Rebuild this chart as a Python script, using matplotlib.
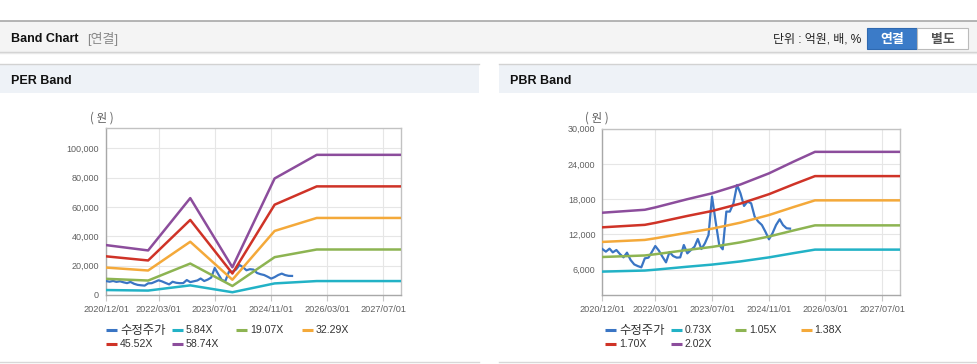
import numpy as np
import pandas as pd
import matplotlib
matplotlib.use("Agg")
import matplotlib.pyplot as plt
import matplotlib.dates as mdates
from matplotlib.patches import Rectangle
from matplotlib.lines import Line2D
from matplotlib.ticker import FuncFormatter, FixedLocator

# ---------------- data ----------------
price_start = "2020-12-01"
price = [9520, 9070, 9580, 8950, 9350, 8670, 8100, 8900, 7650, 6900, 6620, 6400,
         7930, 8045, 9070, 10030, 9240, 8220, 7250, 9010, 8330, 8050, 8100, 10200,
         8780, 9350, 9920, 11230, 9520, 10490, 11900, 18440, 14180, 10200, 9470, 15890,
         15890, 17300, 20430, 19010, 16850, 17590, 17300, 15030, 14180, 13610, 12480, 11170,
         12190, 13610, 14580, 13610, 13050, 12990]

eps_dates = ["2020-12-01", "2021-12-01", "2022-12-01", "2023-12-01", "2024-12-01", "2025-12-01", "2027-12-01"]
eps = [579, 517, 1124, 322, 1352, 1626, 1626]
per_multiples = [5.84, 19.07, 32.29, 45.52, 58.74]

bps_dates = ["2020-12-01", "2021-12-01", "2022-03-01", "2022-12-01", "2023-07-01", "2024-03-01",
             "2024-11-01", "2025-06-01", "2025-12-01", "2027-12-01"]
bps = [7772, 8020, 8218, 8911, 9406, 10149, 11089, 12080, 12900, 12900]
pbr_multiples = [0.73, 1.05, 1.38, 1.70, 2.02]

x_ticks = ["2020-12-01", "2022-03-01", "2023-07-01", "2024-11-01", "2026-03-01", "2027-07-01"]
x_range = ["2020-12-01", "2027-12-01"]
per_yticks = [0, 20000, 40000, 60000, 80000, 100000]
pbr_yticks = [6000, 12000, 18000, 24000, 30000]
price_label = "수정주가"

colors = ["#3a75c4", "#22b2c6", "#8db452", "#f4a93a", "#cf3327", "#8c4d9c"]

# ---------------- figure ----------------
W, H = 978, 364
fig = plt.figure(figsize=(W / 100, H / 100), dpi=100)
fig.patch.set_facecolor("white")
bg = fig.add_axes([0, 0, 1, 1], zorder=0)
bg.set_xlim(0, W)
bg.set_ylim(H, 0)
bg.axis("off")

CJK = ["Liberation Sans", "Noto Sans CJK KR", "DejaVu Sans"]
KR = ["Noto Sans CJK KR", "DejaVu Sans"]

# header bar
bg.add_patch(Rectangle((0, 21), W, 31, facecolor="#f4f4f4", edgecolor="none"))
bg.plot([0, W], [21, 21], color="#a8a8a8", lw=1.2)
bg.plot([0, W], [52, 52], color="#d0d0d0", lw=1.0)
bg.plot([0, W], [53.2, 53.2], color="#e8e8e8", lw=1.0)
bg.text(11, 39, "Band Chart", fontsize=9, fontweight="bold", family=CJK, color="#111", va="center")
bg.text(87, 39, "[연결]", fontsize=9.3, family=CJK, color="#888", va="center")
bg.text(861, 39, "단위 : 억원, 배, %", fontsize=8.6, family=CJK, color="#222", va="center", ha="right")
bg.add_patch(Rectangle((867, 28), 50, 21, facecolor="#3b7bc8", edgecolor="#2f69b0", lw=0.8))
bg.text(892, 38.5, "연결", fontsize=9.3, family=KR, color="white", fontweight="bold", va="center", ha="center")
bg.add_patch(Rectangle((917, 28), 51, 21, facecolor="white", edgecolor="#bbbbbb", lw=0.8))
bg.text(942.5, 38.5, "별도", fontsize=9.3, family=KR, color="#555", fontweight="bold", va="center", ha="center")

# panel headers
for x0, x1, title in [(0, 479, "PER Band"), (499, W, "PBR Band")]:
    bg.add_patch(Rectangle((x0, 64), x1 - x0, 29, facecolor="#eef2f7", edgecolor="none"))
    bg.plot([x0, x1], [64, 64], color="#d2d2d2", lw=1.0)
    bg.plot([x0, x1], [361.5, 361.5], color="#d8d8d8", lw=1.0)
    bg.text(x0 + 11, 80.5, title, fontsize=9, fontweight="bold", family=CJK, color="#111", va="center")


def px_axes(l, t, r, b):
    return fig.add_axes([l / W, 1 - b / H, (r - l) / W, (b - t) / H], zorder=2)


tick_dates = [pd.Timestamp(d) for d in x_ticks]
price_dates = pd.date_range(price_start, periods=len(price), freq="MS")


def style_axes(ax, yticks, ylim):
    ax.set_xlim(pd.Timestamp(x_range[0]), pd.Timestamp(x_range[1]))
    ax.set_ylim(*ylim)
    ax.xaxis.set_major_locator(FixedLocator(mdates.date2num(tick_dates)))
    ax.xaxis.set_major_formatter(mdates.DateFormatter("%Y/%m/%d"))
    ax.yaxis.set_major_locator(FixedLocator(yticks))
    ax.yaxis.set_major_formatter(FuncFormatter(lambda v, p: f"{int(round(v)):,}"))
    ax.grid(True, color="#e6e6e6", lw=0.8)
    ax.set_axisbelow(True)
    for s in ax.spines.values():
        s.set_color("#c2c2c2")
        s.set_linewidth(1.0)
    ax.spines["left"].set_color("#a8a8a8")
    ax.spines["bottom"].set_color("#a8a8a8")
    ax.tick_params(axis="x", length=4, color="#c8c8c8", pad=3, labelsize=6.6, labelcolor="#606060")
    ax.tick_params(axis="y", length=0, pad=5, labelsize=6.5, labelcolor="#606060")
    for lab in ax.get_xticklabels() + ax.get_yticklabels():
        lab.set_family("Liberation Sans")


def draw_legend(x_base, labels):
    offs = [0, 65.5, 130, 195.5]
    rows = [330.3, 343.7]
    for i, (lab, c) in enumerate(zip(labels, colors)):
        r, col = divmod(i, 4)
        x = x_base + offs[col]
        y = rows[r]
        bg.add_line(Line2D([x, x + 11], [y, y], color=c, lw=2.2, solid_capstyle="butt"))
        if i == 0:
            bg.text(x + 14, y, lab, fontsize=8.9, family=KR, color="#333", va="center")
        else:
            bg.text(x + 14, y, lab, fontsize=7.6, family=CJK, color="#333", va="center")


# PER chart
ax1 = px_axes(106, 128, 401, 295)
style_axes(ax1, per_yticks, (0, 113800))
ax1.plot(price_dates, price, color=colors[0], lw=1.6, zorder=3)
eps_d = pd.to_datetime(eps_dates)
for m, c in zip(per_multiples, colors[1:]):
    ax1.plot(eps_d, np.array(eps) * m, color=c, lw=1.8, zorder=4)
bg.text(102, 118, "( 원 )", fontsize=8.3, family=KR, color="#606060", va="center", ha="center")
draw_legend(106, [price_label] + [f"{m:.2f}X" for m in per_multiples])

# PBR chart
ax2 = px_axes(602.3, 128.7, 900, 295.3)
style_axes(ax2, pbr_yticks, (1640, 30000))
ax2.plot(price_dates, price, color=colors[0], lw=1.6, zorder=3)
bps_d = pd.to_datetime(bps_dates)
for m, c in zip(pbr_multiples, colors[1:]):
    ax2.plot(bps_d, np.array(bps) * m, color=c, lw=1.8, zorder=4)
bg.text(597, 118, "( 원 )", fontsize=8.3, family=KR, color="#606060", va="center", ha="center")
draw_legend(605, [price_label] + [f"{m:.2f}X" for m in pbr_multiples])

fig.savefig("out.png", dpi=100, facecolor="white")
